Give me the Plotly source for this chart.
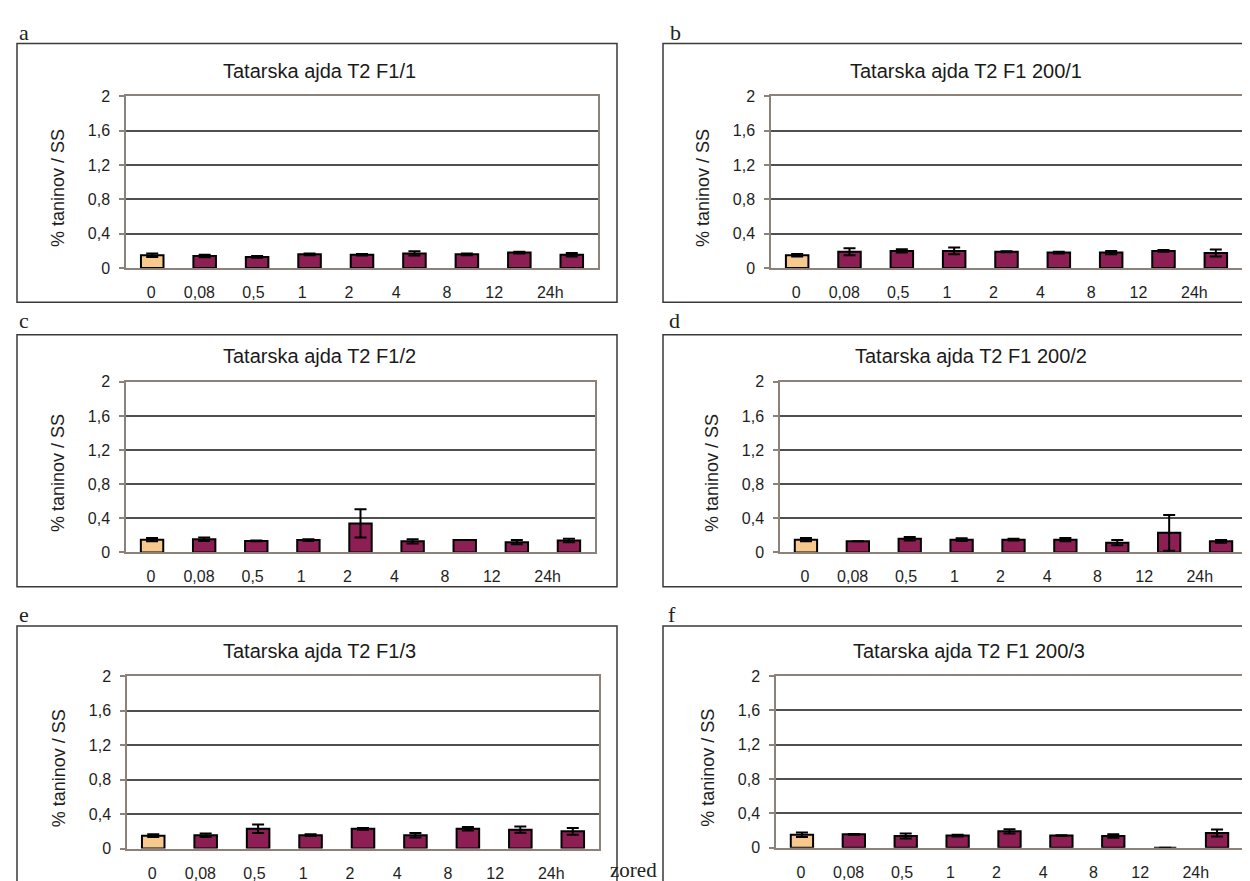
import plotly.graph_objects as go

W, H = 1250, 881

# ---------------- data ----------------
categories = ["0", "0,08", "0,5", "1", "2", "4", "8", "12", "24h"]
titles = ["Tatarska ajda T2 F1/1", "Tatarska ajda T2 F1 200/1",
          "Tatarska ajda T2 F1/2", "Tatarska ajda T2 F1 200/2",
          "Tatarska ajda T2 F1/3", "Tatarska ajda T2 F1 200/3"]
panel_letters = ["a", "b", "c", "d", "e", "f"]
y_title = "% taninov / SS"
y_ticks = [0, 0.4, 0.8, 1.2, 1.6, 2]

values_a = [0.15, 0.14, 0.13, 0.16, 0.155, 0.17, 0.16, 0.18, 0.155]
errors_a = [0.02, 0.015, 0.01, 0.01, 0.01, 0.025, 0.01, 0.01, 0.02]
values_b = [0.15, 0.19, 0.20, 0.20, 0.19, 0.18, 0.18, 0.20, 0.175]
errors_b = [0.015, 0.04, 0.02, 0.04, 0.005, 0.01, 0.02, 0.01, 0.04]
values_c = [0.15, 0.155, 0.135, 0.145, 0.34, 0.13, 0.145, 0.12, 0.14]
errors_c = [0.02, 0.02, 0.005, 0.01, 0.165, 0.025, 0.0, 0.025, 0.02]
values_d = [0.15, 0.13, 0.16, 0.15, 0.15, 0.15, 0.115, 0.23, 0.13]
errors_d = [0.02, 0.0, 0.02, 0.015, 0.01, 0.02, 0.03, 0.21, 0.015]
values_e = [0.15, 0.155, 0.23, 0.155, 0.23, 0.155, 0.23, 0.22, 0.20]
errors_e = [0.015, 0.02, 0.05, 0.01, 0.01, 0.025, 0.02, 0.035, 0.04]
values_f = [0.15, 0.155, 0.135, 0.14, 0.19, 0.14, 0.135, 0.0, 0.17]
errors_f = [0.025, 0.005, 0.03, 0.01, 0.025, 0.005, 0.02, 0.0, 0.04]

all_values = [values_a, values_b, values_c, values_d, values_e, values_f]
all_errors = [errors_a, errors_b, errors_c, errors_d, errors_e, errors_f]

# ---------------- layout (pixels) ----------------
# plot areas: (left, right, top, bottom)
plot_boxes = [(118, 590, 82, 257), (763, 1234, 82, 257),
              (118, 587, 373, 547), (772, 1239, 373, 547),
              (119, 591, 673, 849), (768, 1235, 673, 848)]
# outer frames: (left, right, top, bottom)
frames = [(9, 609, 28, 292), (655, 1262, 28, 292),
          (9, 609, 325, 582), (655, 1262, 325, 582),
          (9, 609, 622, 900), (655, 1262, 622, 900)]
title_pos = [(311, 56), (958, 56), (311, 347), (963, 347), (311, 647), (961, 647)]
letter_pos = [(9, 17), (660, 17), (9, 311), (659, 311), (9, 610), (658, 610)]
# x positions (in bar-slot units) where the category labels sit
label_slots = [-0.02, 0.9, 1.93, 2.86, 3.75, 4.65, 5.62, 6.52, 7.59]

PEACH = "#F8C98E"
MAROON = "#8E1F55"
GRID = "#4f4f4f"
AXIS = "#8c8279"
SANS = "Liberation Sans, Arial, sans-serif"
SERIF = "Liberation Serif, Times New Roman, serif"


def px(x):
    return x / W


def py(y):
    return 1 - y / H


fig = go.Figure()
annotations = []
shapes = []

for i in range(6):
    l, r, t, b = plot_boxes[i]
    xa = "x" if i == 0 else f"x{i+1}"
    ya = "y" if i == 0 else f"y{i+1}"
    colors = [PEACH] + [MAROON] * (len(categories) - 1)
    fig.add_trace(go.Bar(
        x=list(range(len(categories))), y=all_values[i],
        width=0.43,
        marker=dict(color=colors, line=dict(color="black", width=2)),
        error_y=dict(type="data", array=all_errors[i], visible=True,
                     color="black", thickness=2, width=6),
        xaxis=xa, yaxis=ya, showlegend=False, hoverinfo="skip"))

    xkey = "xaxis" if i == 0 else f"xaxis{i+1}"
    ykey = "yaxis" if i == 0 else f"yaxis{i+1}"
    fig.update_layout({
        xkey: dict(domain=[px(l), px(r)], anchor=ya, range=[-0.5, 8.5],
                   tickmode="array", tickvals=label_slots, ticktext=categories,
                   ticks="outside", ticklen=9, tickcolor="rgba(0,0,0,0)",
                   tickfont=dict(family=SANS, size=16, color="#1e1e1e"),
                   showgrid=False, zeroline=False,
                   showline=True, linecolor=AXIS, linewidth=1.5, mirror=True,
                   fixedrange=True),
        ykey: dict(domain=[py(b), py(t)], anchor=xa, range=[0, 2],
                   tickmode="array", tickvals=y_ticks,
                   ticks="outside", ticklen=5, tickcolor=AXIS, tickwidth=1.5,
                   ticklabelstandoff=6,
                   tickfont=dict(family=SANS, size=16, color="#1e1e1e"),
                   showgrid=True, gridcolor=GRID, gridwidth=1.5,
                   zeroline=False,
                   showline=True, linecolor=AXIS, linewidth=1.5, mirror=True,
                   fixedrange=True),
    })

    # outer frame
    fl, fr, ft, fb = frames[i]
    shapes.append(dict(type="rect", xref="paper", yref="paper",
                       x0=px(fl), x1=px(fr), y0=py(fb), y1=py(ft),
                       line=dict(color="#3a3a3a", width=1.5),
                       fillcolor="white", layer="below"))

    tx, ty = title_pos[i]
    annotations.append(dict(text=titles[i], x=px(tx), y=py(ty), xref="paper", yref="paper",
                            xanchor="center", yanchor="middle", showarrow=False,
                            font=dict(family=SANS, size=20, color="#1a1a1a")))
    annotations.append(dict(text=y_title, x=px(l - 68), y=py((t + b) / 2 + 6),
                            xref="paper", yref="paper", textangle=-90,
                            xanchor="center", yanchor="middle", showarrow=False,
                            font=dict(family=SANS, size=18, color="#1e1e1e")))
    lx, ly = letter_pos[i]
    annotations.append(dict(text=panel_letters[i], x=px(lx), y=py(ly), xref="paper", yref="paper",
                            xanchor="left", yanchor="middle", showarrow=False,
                            font=dict(family=SERIF, size=22, color="#222")))

# caption fragment peeking out between the lower panels
annotations.append(dict(text="zored", x=px(600), y=py(871), xref="paper", yref="paper",
                        xanchor="left", yanchor="middle", showarrow=False,
                        font=dict(family=SERIF, size=21, color="#222")))

fig.update_layout(
    width=W, height=H,
    margin=dict(l=0, r=0, t=0, b=0),
    paper_bgcolor="white", plot_bgcolor="white",
    separators=",.",
    bargap=0.5,
    shapes=shapes,
    annotations=annotations,
)

fig.write_html("out.html")
